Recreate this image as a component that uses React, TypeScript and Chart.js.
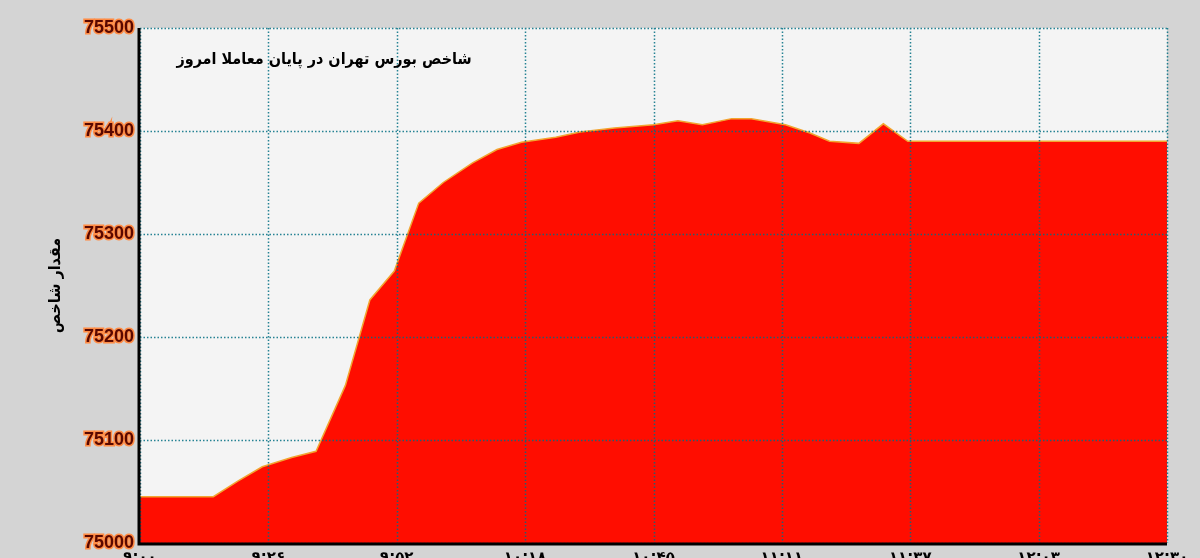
import { useEffect, useRef } from "react";
import Chart from "chart.js/auto";

// minutes after market open
const minutes = [0, 15, 20, 25, 31, 36, 42, 47, 52, 57, 62, 68, 73, 78, 85, 90, 97, 105, 110, 115, 121, 125, 132, 137, 141, 147, 152, 157, 210];
const indexValues = [75045, 75045, 75060, 75074, 75083, 75089, 75153, 75236, 75264, 75330, 75350, 75369, 75382, 75389, 75394, 75399, 75403, 75406, 75410, 75406, 75412, 75412, 75406, 75398, 75390, 75388, 75407, 75390, 75390];
const timeLabels = ["۹:۰۰", "۹:۲۶", "۹:۵۲", "۱۰:۱۸", "۱۰:۴۵", "۱۱:۱۱", "۱۱:۳۷", "۱۲:۰۳", "۱۲:۳۰"];

const chartTitle = "شاخص بورس تهران در پایان معاملا امروز";
const yTitle = "مقدار شاخص";

const gridColor = "rgba(0, 110, 130, 0.85)";

// background under the plot, and grid + axis lines drawn over the red fill
const plotDecor = {
  id: "plotDecor",
  beforeDraw(chart: Chart) {
    const { ctx, chartArea } = chart;
    ctx.save();
    ctx.fillStyle = "#f4f4f4";
    ctx.fillRect(chartArea.left, chartArea.top, chartArea.right - chartArea.left, chartArea.bottom - chartArea.top);
    ctx.restore();
  },
  afterDatasetsDraw(chart: Chart) {
    const { ctx, chartArea } = chart;
    const xs = chart.scales.x;
    const ys = chart.scales.y;
    ctx.save();
    ctx.strokeStyle = gridColor;
    ctx.lineWidth = 1.5;
    ctx.setLineDash([1.5, 2]);
    ctx.beginPath();
    xs.ticks.forEach((t) => {
      const px = Math.round(xs.getPixelForValue(t.value)) + 0.5;
      ctx.moveTo(px, chartArea.top);
      ctx.lineTo(px, chartArea.bottom);
    });
    ys.ticks.forEach((t) => {
      const py = Math.round(ys.getPixelForValue(t.value)) + 0.5;
      ctx.moveTo(chartArea.left, py);
      ctx.lineTo(chartArea.right, py);
    });
    ctx.stroke();
    ctx.setLineDash([]);
    ctx.strokeStyle = "#000";
    ctx.lineWidth = 3;
    ctx.beginPath();
    ctx.moveTo(chartArea.left - 1, chartArea.top);
    ctx.lineTo(chartArea.left - 1, chartArea.bottom + 1);
    ctx.lineTo(chartArea.right, chartArea.bottom + 1);
    ctx.stroke();
    ctx.restore();
  },
  afterDraw(chart: Chart) {
    const { ctx, chartArea } = chart;
    ctx.save();
    ctx.font = "bold 16px 'DejaVu Sans Condensed', 'DejaVu Sans', sans-serif";
    ctx.fillStyle = "#000";
    ctx.textAlign = "center";
    ctx.textBaseline = "middle";
    ctx.fillText(chartTitle, chartArea.left + 184, chartArea.top + 32);
    ctx.restore();
  },
};

export default function App() {
  const canvasRef = useRef<HTMLCanvasElement>(null);
  const chartRef = useRef<Chart | null>(null);

  useEffect(() => {
    if (!canvasRef.current) return;
    const ctx = canvasRef.current.getContext("2d");
    if (!ctx) return;

    chartRef.current = new Chart(ctx, {
      type: "line",
      data: {
        datasets: [
          {
            data: minutes.map((m, i) => ({ x: m, y: indexValues[i] })),
            borderColor: "#f2a530",
            borderWidth: 1.5,
            backgroundColor: "#ff0d00",
            fill: "start",
            pointRadius: 0,
            tension: 0,
          },
        ],
      },
      options: {
        animation: false,
        responsive: true,
        maintainAspectRatio: false,
        layout: { padding: { top: 28, right: 33, left: 0, bottom: 0 } },
        plugins: {
          legend: { display: false },
          tooltip: { enabled: false },
        },
        scales: {
          x: {
            type: "linear",
            min: 0,
            max: 210,
            afterFit(scale: any) {
              scale.height = 37;
            },
            ticks: {
              stepSize: 26.25,
              padding: 6,
              color: "#000",
              font: { size: 15, weight: "bold", family: "'DejaVu Sans', sans-serif" },
              maxRotation: 0,
              callback: (_v: any, i: number) => timeLabels[i],
            },
            grid: { display: false, drawTicks: false },
            border: { display: false },
          },
          y: {
            min: 75000,
            max: 75500,
            afterFit(scale: any) {
              scale.width = 140;
            },
            ticks: {
              stepSize: 100,
              padding: 6,
              color: "#5a0800",
              textStrokeColor: "#ff8c45",
              textStrokeWidth: 3,
              font: { size: 18, weight: "bold", family: "'Liberation Sans', Arial, sans-serif" },
              callback: (v: any) => String(v),
            },
            grid: { display: false, drawTicks: false },
            border: { display: false },
            title: {
              display: true,
              text: yTitle,
              color: "#000",
              font: { size: 16, weight: "bold", family: "'DejaVu Sans Condensed', 'DejaVu Sans', sans-serif" },
              padding: { top: 46, bottom: 0 },
            },
          },
        },
      },
      plugins: [plotDecor],
    });

    return () => {
      if (chartRef.current) {
        chartRef.current.destroy();
        chartRef.current = null;
      }
    };
  }, []);

  return (
    <div style={{ position: "fixed", left: 0, top: 0, width: 1200, height: 558, overflow: "hidden", background: "#d4d4d4" }}>
      <div style={{ position: "relative", width: 1200, height: 580 }}>
        <canvas ref={canvasRef}></canvas>
      </div>
    </div>
  );
}
